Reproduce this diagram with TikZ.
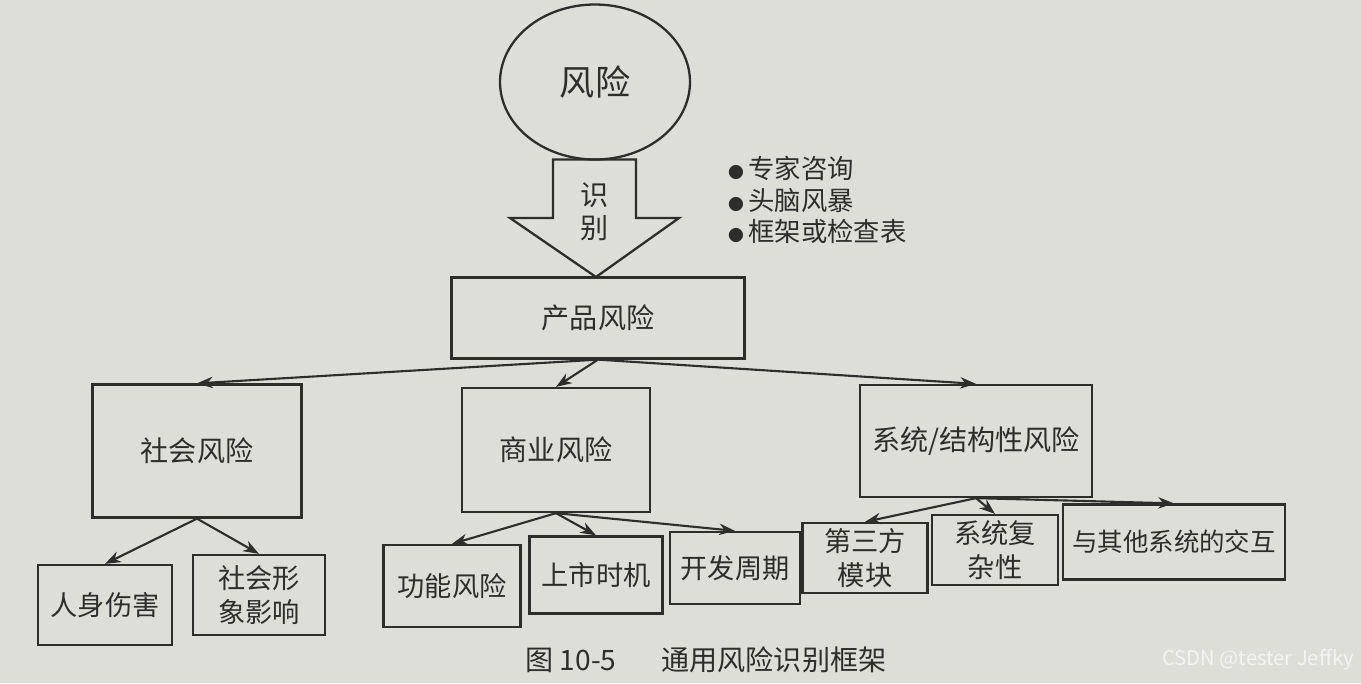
\documentclass[tikz,border=0pt]{standalone}
\usepackage{fontspec}
\setmainfont{Noto Sans CJK SC}
\usepackage{tikz}
\usetikzlibrary{arrows.meta,positioning,shapes.geometric}
\definecolor{PaperGray}{RGB}{222,222,217}
\definecolor{InkGray}{RGB}{45,45,43}
\definecolor{MarkWhite}{RGB}{243,243,243}
\newcommand{\dotmark}{{\fontsize{9}{9}\selectfont ●}\,}
\tikzset{
  riskbox/.style={draw=InkGray,line width=1.3pt,text=InkGray,align=center,
    inner sep=2pt,font=\fontsize{16}{21}\selectfont},
  leafbox/.style={riskbox,font=\fontsize{15.5}{19.5}\selectfont},
  link/.style={-{Stealth[length=9pt,width=6.5pt]},line width=1.2pt,InkGray}
}
\begin{document}
\begin{tikzpicture}[x=0.02cm,y=-0.02cm]
  \fill[PaperGray] (0,0) rectangle (1361,683);
  \useasboundingbox (0,0) rectangle (1361,683);
  % risk and the identification arrow
  \draw[InkGray,line width=1.3pt] (553,159.5) -- (553,218) -- (510,218) -- (596,277)
    -- (679,218) -- (636,218) -- (636,159.5) -- cycle;
  \node[ellipse,draw=InkGray,line width=1.3pt,minimum width=3.8cm,minimum height=3.1cm,
    text=InkGray,font=\fontsize{20}{24}\selectfont] (risk) at (595,82) {风险};
  \node[text=InkGray,align=center,font=\fontsize{16}{19}\selectfont] (ident) at (595,212) {识\\别};
  \node[anchor=west,align=left,text=InkGray,font=\fontsize{15}{18}\selectfont] (methods)
    at (722,200) {\dotmark 专家咨询\\\dotmark 头脑风暴\\\dotmark 框架或检查表};
  % first and second level
  \node[riskbox,minimum width=5.86cm,minimum height=1.62cm] (prod) at (598,318) {产品风险};
  \node[riskbox,minimum width=4.18cm,minimum height=2.66cm] (soc) at (197,451) {社会风险};
  \node[riskbox,minimum width=3.76cm,minimum height=2.48cm] (biz) at (556,450) {商业风险};
  \node[riskbox,minimum width=4.64cm,minimum height=2.24cm] (sys) at (976,441) {系统/结构性风险};
  % leaves
  \node[leafbox,minimum width=2.68cm,minimum height=1.6cm] (injury) at (105,605) {人身伤害};
  \node[leafbox,minimum width=2.64cm,minimum height=1.6cm] (image) at (259,595) {社会形\\象影响};
  \node[leafbox,minimum width=2.74cm,minimum height=1.64cm] (func) at (452,586) {功能风险};
  \node[leafbox,minimum width=2.66cm,minimum height=1.54cm] (market) at (596,575) {上市时机};
  \node[leafbox,minimum width=2.6cm,minimum height=1.44cm] (cycle) at (735,568) {开发周期};
  \node[leafbox,minimum width=2.5cm,minimum height=1.4cm] (third) at (865,558) {第三方\\模块};
  \node[leafbox,minimum width=2.52cm,minimum height=1.4cm] (complex) at (995,550) {系统复\\杂性};
  \node[leafbox,minimum width=4.44cm,minimum height=1.5cm,
    font=\fontsize{14.5}{18}\selectfont] (interact) at (1174,542) {与其他系统的交互};
  \foreach \a/\b in {prod/soc,prod/biz,prod/sys,soc/injury,soc/image,biz/func,
      biz/market,biz/cycle,sys/third,sys/complex,sys/interact}
    \draw[link] (\a.south) -- (\b.north);
  % caption
  \node[text=InkGray,font=\fontsize{16}{20}\selectfont] (caption) at (706,660)
    {图 10-5\hspace{1.6em}通用风险识别框架};
  \node[text=MarkWhite,font=\fontsize{11.5}{14}\selectfont] (mark) at (1258,660)
    {CSDN @tester Jeffky};
\end{tikzpicture}
\end{document}
